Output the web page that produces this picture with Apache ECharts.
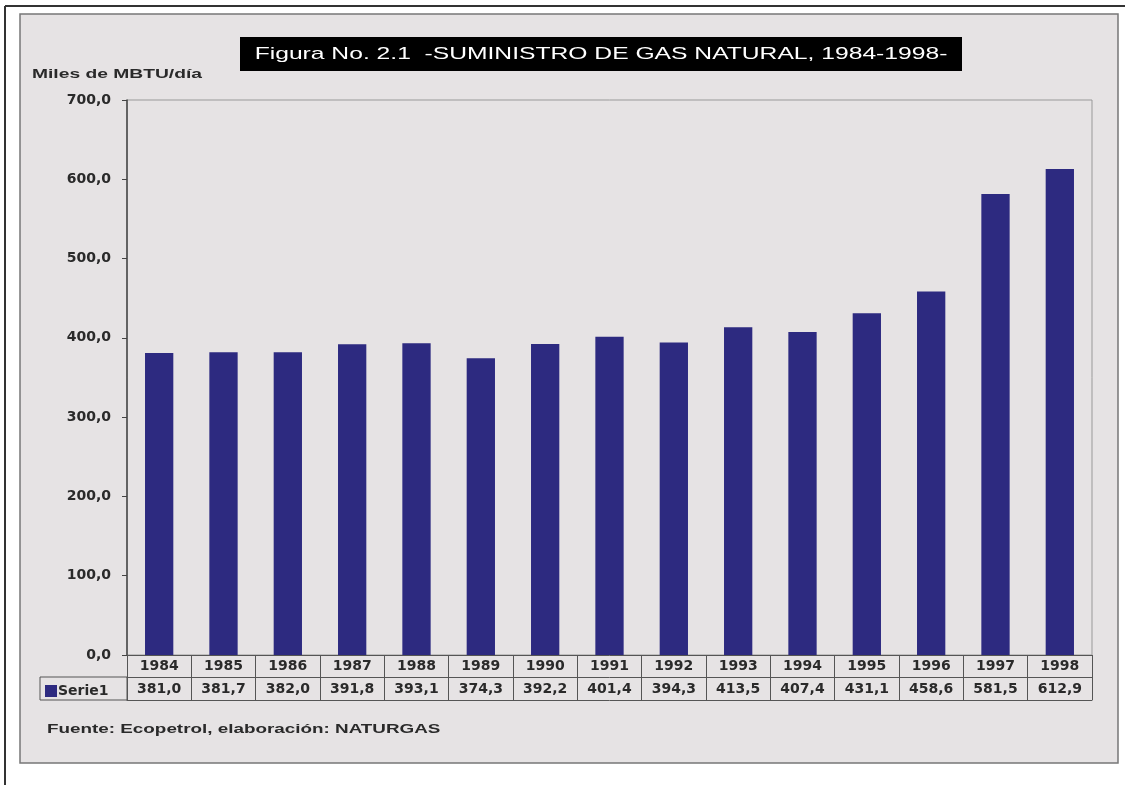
<!DOCTYPE html>
<html><head><meta charset="utf-8">
<script src="https://cdn.jsdelivr.net/npm/echarts@6/dist/echarts.min.js"></script>
<style>html,body{margin:0;padding:0;background:#fff}#c{width:1125px;height:785px}</style>
</head><body><div id="c"></div>
<script>
const years = ['1984','1985','1986','1987','1988','1989','1990','1991','1992','1993','1994','1995','1996','1997','1998'];
const serie1 = [381.0,381.7,382.0,391.8,393.1,374.3,392.2,401.4,394.3,413.5,407.4,431.1,458.6,581.5,612.9];
const yTicks = [0,100,200,300,400,500,600,700];
const seriesName = 'Serie1';
const titleText = 'Figura No. 2.1  -SUMINISTRO DE GAS NATURAL, 1984-1998-';
const yName = 'Miles de MBTU/día';
const source = 'Fuente: Ecopetrol, elaboración: NATURGAS';

const fmt = v => Number(v).toFixed(1).replace('.', ',');
const FONT = 'Arial, "Liberation Sans", sans-serif';
const WFONT = '"DejaVu Sans", Verdana, sans-serif';
const lineCol = '#555';
const txtCol = '#2a2a2a';

const chart = echarts.init(document.getElementById('c'), null, {renderer:'canvas'});
chart.setOption({
  backgroundColor: '#ffffff',
  animation: false,
  graphic: [
    {type:'line', shape:{x1:5,y1:6,x2:1125,y2:6}, style:{stroke:'#333',lineWidth:2}, z:-10},
    {type:'line', shape:{x1:5,y1:6,x2:5,y2:785}, style:{stroke:'#333',lineWidth:2}, z:-10},
    {type:'rect', shape:{x:20,y:14,width:1098,height:749}, style:{fill:'#e6e3e4',stroke:'#777',lineWidth:1.5}, z:-10},
    {type:'rect', shape:{x:240,y:37,width:722,height:34}, style:{fill:'#000'}},
    {type:'text', x:601, y:54, scaleX:1.45, scaleY:1, z:10,
     style:{text:titleText, font:'17px '+FONT, fill:'#fff', textAlign:'center', textVerticalAlign:'middle'}},
    {type:'text', x:32, y:74, scaleX:1.48, style:{text:yName, font:'bold 13px '+FONT, fill:txtCol, textVerticalAlign:'middle'}},
    {type:'text', x:47, y:729, scaleX:1.45, style:{text:source, font:'bold 13px '+FONT, fill:txtCol, textVerticalAlign:'middle'}},
    {type:'rect', shape:{x:40,y:677,width:87,height:23}, style:{fill:'none',stroke:lineCol,lineWidth:1}}
  ],
  legend: {
    left: 40, top: 679, itemWidth: 12, itemHeight: 12, icon: 'rect', itemGap: 2,
    textStyle: {fontFamily: WFONT, fontSize: 14, fontWeight:'bold', color: txtCol, padding:[0,0,0,-4]},
    data: [seriesName]
  },
  grid: {left:127, right:33, top:100, bottom:130, show:true, borderColor:'#999', borderWidth:1, backgroundColor:'transparent'},
  xAxis: [
    {type:'category', data: years, position:'bottom',
     axisLine:{show:true, lineStyle:{color:lineCol, width:1}},
     axisTick:{show:true, inside:false, length:45, alignWithLabel:false, interval:0, lineStyle:{color:lineCol}},
     axisLabel:{interval:0, margin:4, fontFamily:WFONT, fontSize:14, fontWeight:'bold', color:txtCol}},
    {type:'category', data: years, position:'bottom', offset:22,
     axisLine:{show:true, lineStyle:{color:lineCol, width:1}},
     axisTick:{show:false},
     axisLabel:{interval:0, margin:5, fontFamily:WFONT, fontSize:14, fontWeight:'bold', color:txtCol,
       formatter:(v, i) => fmt(serie1[i])}},
    {type:'category', data: years, position:'bottom', offset:45,
     axisLine:{show:true, lineStyle:{color:lineCol, width:1}},
     axisTick:{show:false}, axisLabel:{show:false}}
  ],
  yAxis: {
    type:'value', min: yTicks[0], max: yTicks[yTicks.length-1], interval: 100,
    axisLine:{show:true, lineStyle:{color:'#444', width:1.5}},
    axisTick:{show:true, inside:false, length:5, lineStyle:{color:'#444'}},
    splitLine:{show:false},
    axisLabel:{margin:16, fontFamily:WFONT, fontSize:14, fontWeight:'bold', color:txtCol, formatter: v => fmt(v)}
  },
  series: [{
    name: seriesName, type:'bar', data: serie1, xAxisIndex:0, barWidth:'44%',
    itemStyle:{color:'#2d2a80'}
  }]
});
</script></body></html>
